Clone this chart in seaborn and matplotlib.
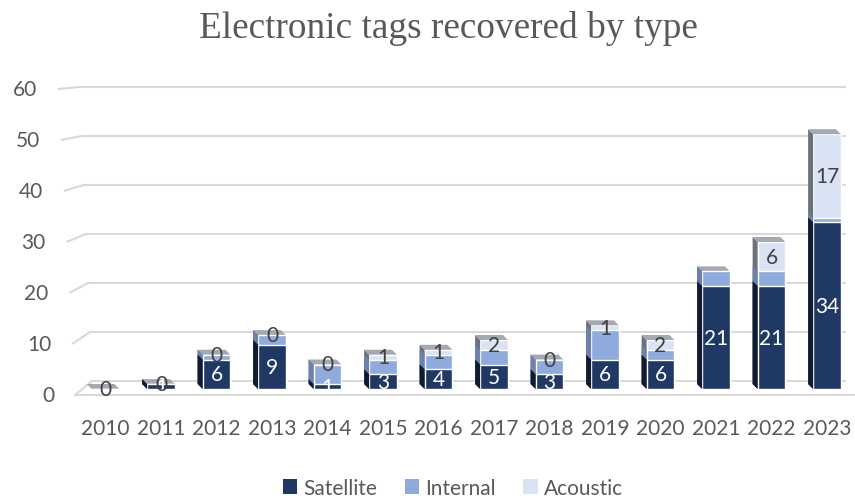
import numpy as np
import pandas as pd
import matplotlib
matplotlib.use("Agg")
import matplotlib.pyplot as plt
from matplotlib.patches import Polygon, Patch
import seaborn as sns

# ---- data -------------------------------------------------------------
years = ["2010", "2011", "2012", "2013", "2014", "2015", "2016",
         "2017", "2018", "2019", "2020", "2021", "2022", "2023"]
satellite = [0, 1, 6, 9, 1, 3, 4, 5, 3, 6, 6, 21, 21, 34]
internal = [0, 0, 1, 2, 4, 3, 3, 3, 3, 6, 2, 3, 3, 1]
acoustic = [0, 0, 0, 0, 0, 1, 1, 2, 0, 1, 2, np.nan, 6, 17]
series_names = ["Satellite", "Internal", "Acoustic"]
y_ticks = [0, 10, 20, 30, 40, 50, 60]

# ---- style ------------------------------------------------------------
front_colors = ["#203864", "#8FAADC", "#DAE3F3"]
side_colors = ["#101A31", "#6A82AD", "#6C717A"]
top_color = "#A4A9B1"
grid_color = "#D9D9D9"
text_grey = "#595959"
label_dark = "#404040"
fs = 15

sns.set_theme(style="white")
plt.rcParams["font.family"] = ["Lato", "DejaVu Sans"]

W, H = 855, 502
fig = plt.figure(figsize=(W / 100, H / 100), dpi=100)

# ---- 3D wall / floor frame, drawn in pixel space ----------------------
frame = fig.add_axes([0, 0, 1, 1])
frame.set_xlim(0, W)
frame.set_ylim(H, 0)
frame.axis("off")


def front_edge(v):
    return 75 - 0.283 * v, 396 - 5.1 * v


def back_edge(v):
    return 92 - 0.2 * v, 382 - 4.9 * v


for v in y_ticks:
    xf, yf = front_edge(v)
    xb, yb = back_edge(v)
    frame.plot([xf, xb, 846], [yf, yb, yb], color=grid_color, lw=1.5,
               solid_joinstyle="miter", solid_capstyle="butt")
    frame.text(xf - 21, yf, str(v), ha="right", va="center",
               fontsize=fs, color=text_grey)
x0f, y0f = front_edge(0)
frame.plot([x0f, 855], [y0f, y0f], color=grid_color, lw=1.5)

# ---- bars -------------------------------------------------------------
px_per_cat = 55.5
first_center = 105.5
zero_px = 390
px_per_unit = 4.9
ymax = 62
ax_left = first_center - 0.5 * px_per_cat
ax = fig.add_axes([ax_left / W, (H - zero_px) / H,
                   len(years) * px_per_cat / W, ymax * px_per_unit / H])
ax.patch.set_alpha(0)

df = pd.DataFrame({"year": years, "Satellite": satellite,
                   "Internal": internal, "Acoustic": acoustic})
filled = df[series_names].fillna(0)
levels = [filled["Satellite"],
          filled["Satellite"] + filled["Internal"],
          filled.sum(axis=1)]

dx = -5 / px_per_cat          # depth offset of the box (left)
dy = 5 / px_per_unit          # depth offset of the box (up)

for order, k in enumerate([2, 1, 0]):
    n_before = len(ax.patches)
    sns.barplot(data=df.assign(level=levels[k].values), x="year", y="level",
                color=front_colors[k], saturation=1, width=0.5,
                errorbar=None, ax=ax, zorder=3 + order)
    for p in ax.patches[n_before:]:
        x0 = p.get_x()
        x1 = x0 + p.get_width()
        b = p.get_y()
        t = b + p.get_height()
        ax.add_patch(Polygon([(x0, b), (x0, t), (x0 + dx, t + dy), (x0 + dx, b + dy)],
                             closed=True, facecolor=side_colors[k], edgecolor="none",
                             zorder=3 + order, clip_on=False))
        if k == 2:
            ax.add_patch(Polygon([(x0, t), (x1, t), (x1 + dx, t + dy), (x0 + dx, t + dy)],
                                 closed=True, facecolor=top_color, edgecolor="none",
                                 zorder=3 + order, clip_on=False))

# value labels
for i in range(len(years)):
    if satellite[i] > 0:
        ax.text(i, satellite[i] / 2, str(satellite[i]), ha="center", va="center",
                color="white", fontsize=fs, zorder=10)
    if not np.isnan(acoustic[i]):
        base = satellite[i] + internal[i]
        ax.text(i, base + acoustic[i] / 2, f"{acoustic[i]:.0f}", ha="center",
                va="center", color=label_dark, fontsize=fs, zorder=10)

ax.set_xlim(-0.5, len(years) - 0.5)
ax.set_ylim(0, ymax)
ax.set_xlabel("")
ax.set_ylabel("")
ax.set_yticks([])
ax.tick_params(axis="x", length=0, pad=21, labelsize=fs, labelcolor=text_grey)
for s in ax.spines.values():
    s.set_visible(False)

# ---- title and legend -------------------------------------------------
fig.text(448 / W, 1 - 28 / H, "Electronic tags recovered by type",
         ha="center", va="center", fontsize=26.8, color=text_grey,
         family=["Liberation Serif", "DejaVu Serif"])

handles = [Patch(facecolor=c, edgecolor="none") for c in front_colors]
fig.legend(handles, series_names, loc="center", bbox_to_anchor=(453 / W, 1 - 489 / H),
           ncol=3, frameon=False, fontsize=fs, handlelength=0.7, handleheight=0.7,
           handletextpad=0.3, columnspacing=1.3, labelcolor=text_grey,
           borderpad=0, borderaxespad=0)

fig.savefig("out.png", dpi=100)
